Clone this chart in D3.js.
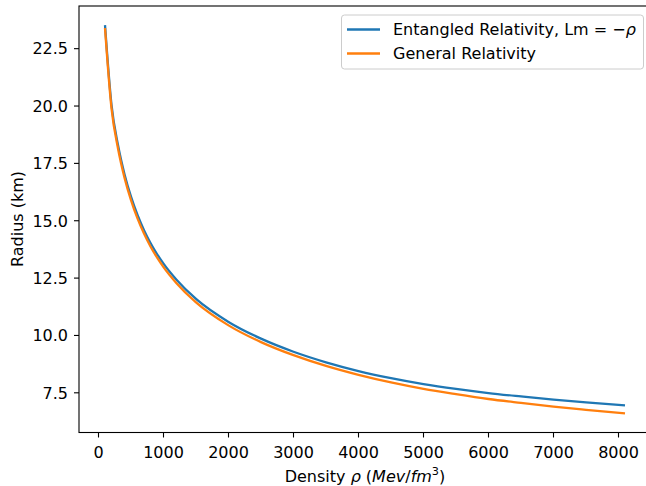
<!DOCTYPE html>
<html><head><meta charset="utf-8">
<script src="https://cdn.jsdelivr.net/npm/d3@7"></script>
<style>body{margin:0;background:#fff}svg{display:block}text{font-family:"DejaVu Sans",sans-serif;fill:#000}</style>
</head><body><svg id="c" width="646" height="486"></svg>
<script>
const density = [100,200,300,400,500,600,700,800,900,1000,1200,1500,2000,2500,3000,3500,4000,4500,5000,5500,6000,6500,7000,7500,8100];
const radiusER = [23.53,20.05,18.30,17.03,16.05,15.25,14.59,14.03,13.55,13.13,12.43,11.59,10.59,9.86,9.29,8.83,8.45,8.14,7.88,7.67,7.49,7.34,7.20,7.08,6.95];
const radiusGR = [23.40,19.90,18.15,16.88,15.90,15.10,14.44,13.88,13.40,12.98,12.28,11.44,10.44,9.71,9.14,8.67,8.28,7.95,7.67,7.44,7.23,7.06,6.90,6.76,6.60];
const xTicks = [0,1000,2000,3000,4000,5000,6000,7000,8000];
const yTicks = [7.5,10.0,12.5,15.0,17.5,20.0,22.5];
const seriesNames = ["Entangled Relativity, Lm = ", "General Relativity"];
const colors = ["#1f77b4","#ff7f0e"];

const FS = 16;
const svg = d3.select("#c");
const L=79, R=651, T=6, B=432.5;
const x = d3.scaleLinear().domain([-300,8500]).range([L,R]);
const y = d3.scaleLinear().domain([5.77,24.36]).range([B,T]);

// lines
[radiusER, radiusGR].forEach((vals,i)=>{
  const line = d3.line().x((d,j)=>x(density[j])).y(d=>y(d)).curve(d3.curveMonotoneX);
  svg.append("path").datum(vals).attr("d",line).attr("fill","none")
    .attr("stroke",colors[i]).attr("stroke-width",2.3).attr("stroke-linecap","butt");
});

// spines
svg.append("rect").attr("x",L).attr("y",T).attr("width",R-L).attr("height",B-T)
  .attr("fill","none").attr("stroke","#000").attr("stroke-width",1.1);

// x ticks
const gx = svg.append("g");
xTicks.forEach(t=>{
  gx.append("line").attr("x1",x(t)).attr("x2",x(t)).attr("y1",B).attr("y2",B+5).attr("stroke","#000").attr("stroke-width",1.1);
  gx.append("text").attr("x",x(t)).attr("y",458.3).attr("text-anchor","middle").attr("font-size",FS).text(d3.format("d")(t));
});
// y ticks
const gy = svg.append("g");
yTicks.forEach(t=>{
  gy.append("line").attr("x1",L-5).attr("x2",L).attr("y1",y(t)).attr("y2",y(t)).attr("stroke","#000").attr("stroke-width",1.1);
  gy.append("text").attr("x",68).attr("y",y(t)+5.8).attr("text-anchor","end").attr("font-size",FS).text(d3.format(".1f")(t));
});

// x label
const xl = svg.append("text").attr("x",365).attr("y",481.5).attr("text-anchor","middle").attr("font-size",FS);
xl.append("tspan").text("Density ");
xl.append("tspan").attr("font-style","italic").text("ρ");
xl.append("tspan").text(" (");
xl.append("tspan").attr("font-style","italic").text("Mev");
xl.append("tspan").text("/");
xl.append("tspan").attr("font-style","italic").text("fm");
xl.append("tspan").attr("font-size",11.3).attr("dy",-6.5).text("3");
xl.append("tspan").attr("dy",6.5).text(")");

// y label
svg.append("text").attr("transform","translate(23,219) rotate(-90)").attr("text-anchor","middle")
  .attr("font-size",FS).text("Radius (km)");

// legend
const lg = svg.append("g");
lg.append("rect").attr("x",341.5).attr("y",15).attr("width",302).attr("height",54).attr("rx",3)
  .attr("fill","#fff").attr("fill-opacity",0.8).attr("stroke","#cccccc").attr("stroke-width",1);
seriesNames.forEach((n,i)=>{
  const yy = 29.5 + i*24;
  lg.append("line").attr("x1",347).attr("x2",380).attr("y1",yy).attr("y2",yy).attr("stroke",colors[i]).attr("stroke-width",2.3);
  const t = lg.append("text").attr("x",393).attr("y",yy+5.8).attr("font-size",FS);
  t.append("tspan").text(n);
  if(i===0){ t.append("tspan").text("−"); t.append("tspan").attr("font-style","italic").text("ρ"); }
});
</script></body></html>
